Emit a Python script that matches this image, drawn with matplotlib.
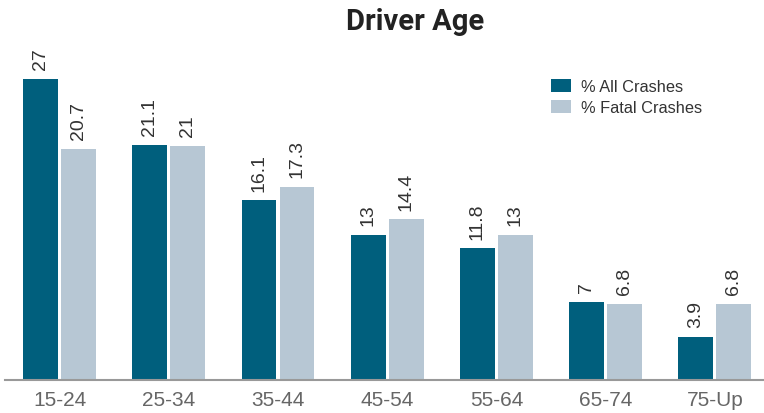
import numpy as np
import matplotlib
matplotlib.use("Agg")
import matplotlib.pyplot as plt

plt.rcParams['font.family'] = ['Liberation Sans', 'DejaVu Sans']

ages = ['15-24', '25-34', '35-44', '45-54', '55-64', '65-74', '75-Up']
all_crashes = [27, 21.1, 16.1, 13, 11.8, 7, 3.9]
fatal_crashes = [20.7, 21, 17.3, 14.4, 13, 6.8, 6.8]

dark = '#005f7d'
light = '#b7c7d4'

fig = plt.figure(figsize=(7.64, 4.14), dpi=100)
ax = fig.add_axes([5 / 764, 33 / 414, 759 / 764, 336 / 414])

x = np.arange(len(ages))
w = 0.32
off = 0.174
b1 = ax.bar(x - off, all_crashes, w, color=dark, label='% All Crashes')
b2 = ax.bar(x + off, fatal_crashes, w, color=light, label='% Fatal Crashes')

# value labels above each bar, rotated
for bars, vals in ((b1, all_crashes), (b2, fatal_crashes)):
    for r, v in zip(bars, vals):
        ax.annotate(f'{v:g}', (r.get_x() + r.get_width() / 2, v),
                    xytext=(0, 7), textcoords='offset points',
                    rotation=90, ha='center', va='bottom',
                    fontsize=14, color='#333333')

ax.set_xlim(-0.5, 6.45)
ax.set_ylim(0, 336 / 11.15)
ax.set_xticks(x)
ax.set_xticklabels(ages, fontsize=15, color='#666666')
ax.tick_params(axis='x', length=0, pad=7)
ax.set_yticks([])
for s in ['top', 'right', 'left']:
    ax.spines[s].set_visible(False)
ax.spines['bottom'].set_color('#999999')
ax.spines['bottom'].set_linewidth(1.5)

fig.text(415 / 764, 1 - 30 / 414, 'Driver Age', ha='center', va='baseline',
         fontsize=21, fontweight='bold', color='#222222',
         family=['Roboto', 'DejaVu Sans'])

leg = fig.legend(loc='upper left', bbox_to_anchor=(551 / 764, 1 - 80 / 414),
                 frameon=False, fontsize=11.8, borderpad=0, borderaxespad=0,
                 handlelength=1.22, handleheight=0.85, handletextpad=0.6,
                 labelspacing=0.33)
for t in leg.get_texts():
    t.set_color('#333333')

fig.savefig('out.png', dpi=100)
